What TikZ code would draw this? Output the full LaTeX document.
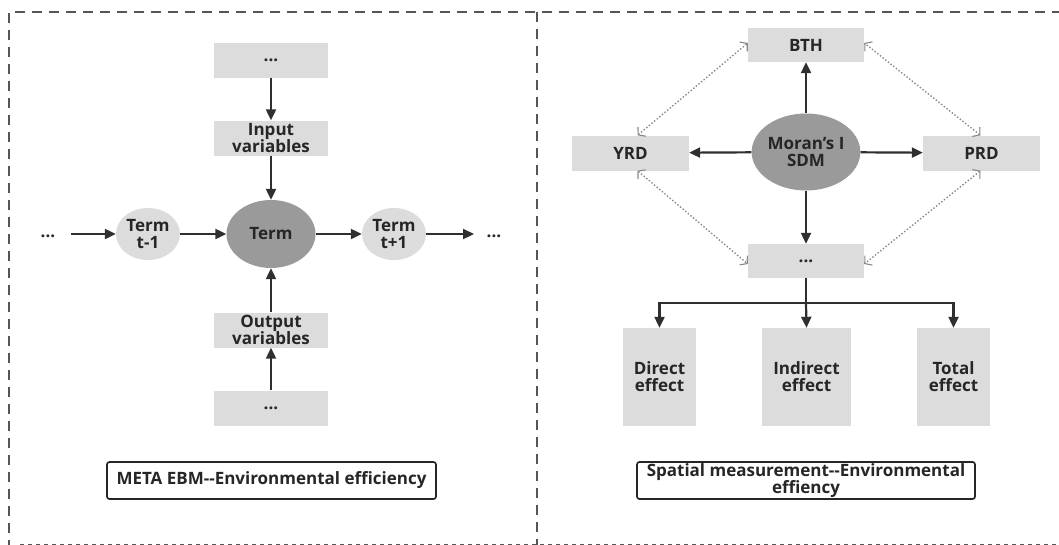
\documentclass[tikz,border=0pt]{standalone}
\usepackage{fontspec}
\setmainfont{Open Sans}
\usetikzlibrary{arrows.meta,shapes.geometric}
\definecolor{boxgray}{HTML}{DCDCDC}
\definecolor{darkell}{HTML}{9A9A9A}
\definecolor{arr}{HTML}{2F2F2F}
\definecolor{frame}{HTML}{555555}
\definecolor{dotgray}{HTML}{888888}
\begin{document}
\begin{tikzpicture}[x=1pt,y=-1pt,
  every node/.style={font=\fontsize{17}{17}\selectfont\bfseries, text=black!85, align=center, inner sep=0pt},
  gbox/.style={fill=boxgray, minimum width=114pt, minimum height=35pt},
  lell/.style={ellipse, fill=boxgray, minimum width=64pt, minimum height=52pt},
  dell/.style={ellipse, fill=darkell, minimum width=89pt, minimum height=68pt},
  effbox/.style={fill=boxgray, minimum width=73pt, minimum height=98pt},
  titlebox/.style={draw=black!85, line width=1.7pt, rounded corners=2.5pt, fill=white},
  sarrow/.style={draw=arr, line width=2.2pt, -{Triangle[length=11pt,width=10pt]}},
  darrow/.style={draw=dotgray, line width=1.4pt, dotted, {Straight Barb[length=5pt,width=12pt,line width=1.1pt]}-{Straight Barb[length=5pt,width=12pt,line width=1.1pt]}},
  framel/.style={draw=frame, line width=2.6pt, dash pattern=on 10pt off 7pt}
]
\useasboundingbox (0,0) rectangle (1059,544);
% frame
\draw[framel] (1062,12) -- (9,12) -- (9,548);
\draw[framel] (537,12) -- (537,548);
\draw[draw=frame, line width=2pt, dash pattern=on 4pt off 4pt] (20,545) -- (1059,545);

% left panel
\node[gbox] (ltop) at (271,60) {...};
\node[gbox] (inp) at (271,138) {Input\\variables};
\node[dell] (term) at (271,234) {Term};
\node[lell] (tm1) at (148,234) {Term\\t-1};
\node[lell] (tp1) at (394,234) {Term\\t+1};
\node[gbox] (outp) at (271,330) {Output\\variables};
\node[gbox] (lbot) at (271,408) {...};
\node (ldots) at (48,236) {...};
\node (rdots) at (494,236) {...};
\coordinate (lstart) at (71,234);
\coordinate (rend) at (474,234);
\node[titlebox, minimum width=329pt, minimum height=37pt] (lt) at (271.5,480.5) {META EBM{-}{-}Environmental efficiency};

\draw[sarrow] (ltop) -- (inp);
\draw[sarrow] (inp) -- (term);
\draw[sarrow] (outp) -- (term);
\draw[sarrow] (lbot) -- (outp);
\draw[sarrow] (lstart) -- (tm1);
\draw[sarrow] (tm1) -- (term);
\draw[sarrow] (term) -- (tp1);
\draw[sarrow] (tp1) -- (rend);

% right panel
\node[gbox, minimum width=116pt, minimum height=34pt] (bth) at (806,45) {BTH};
\node[ellipse, fill=darkell, minimum width=101pt, minimum height=77pt] (moran) at (806,152) {Moran's I\\SDM};
\node[gbox, minimum width=117pt] (yrd) at (630.5,153) {YRD};
\node[gbox, minimum width=117pt] (prd) at (981.5,153) {PRD};
\node[gbox, minimum width=116pt, minimum height=34pt] (rdt) at (806,261) {...};
\node[effbox] (dir) at (659.5,377) {Direct\\effect};
\node[effbox, minimum width=89pt] (ind) at (806.5,377) {Indirect\\effect};
\node[effbox] (tot) at (953.5,377) {Total\\effect};
\node[titlebox, minimum width=338pt, minimum height=37pt] (rt) at (806,480.5) {Spatial measurement{-}{-}Environmental\\[-1pt]effiency};

\draw[sarrow] (moran) -- (bth);
\draw[sarrow] (moran) -- (yrd);
\draw[sarrow] (moran) -- (prd);
\draw[sarrow] (moran) -- (rdt);
\coordinate (br) at (806,303);
\draw[draw=arr, line width=2.2pt] (rdt.south) -- (br);
\draw[sarrow] (br) -| (dir.north);
\draw[sarrow] (br) -- (ind.north);
\draw[sarrow] (br) -| (tot.north);

\draw[darrow] ([xshift=7pt]yrd.north) -- ([yshift=2pt]bth.west);
\draw[darrow] ([xshift=-1pt]prd.north) -- ([yshift=2pt]bth.east);
\draw[darrow] ([xshift=7pt]yrd.south) -- ([yshift=-3pt]rdt.west);
\draw[darrow] ([xshift=-1pt]prd.south) -- ([yshift=-3pt]rdt.east);
\end{tikzpicture}
\end{document}
